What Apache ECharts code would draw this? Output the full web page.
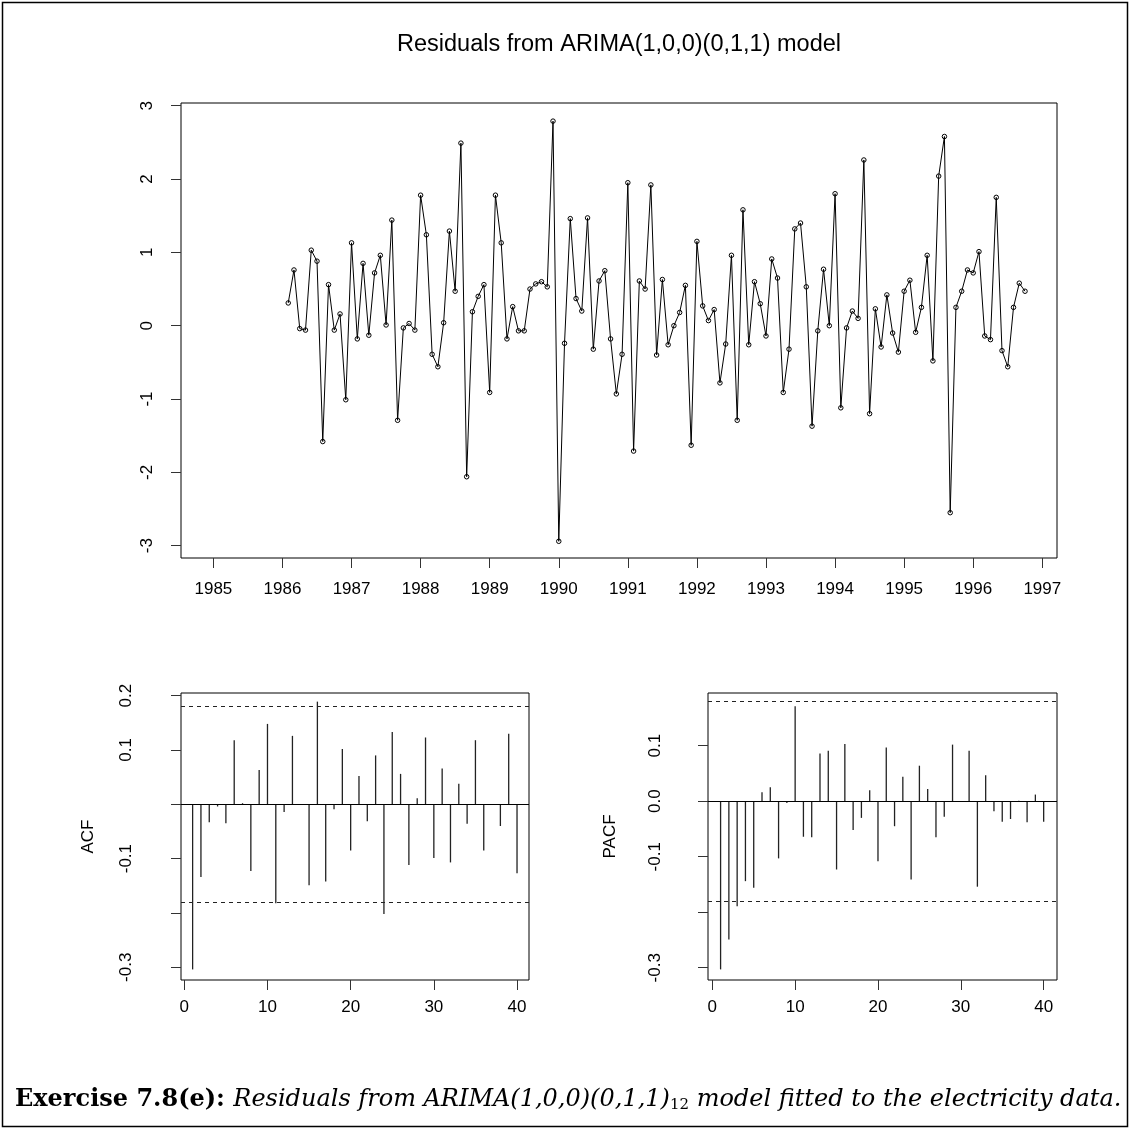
<!DOCTYPE html>
<html>
<head>
<meta charset="utf-8">
<title>Residuals from ARIMA(1,0,0)(0,1,1) model</title>
<script src="https://cdn.jsdelivr.net/npm/echarts@6/dist/echarts.min.js"></script>
<style>
  html, body { margin: 0; padding: 0; background: #fff; }
  #chart { width: 1130px; height: 1144px; }
</style>
</head>
<body>
<div id="chart"></div>
<script>
// Monthly residuals, first value is February 1986
const startYear = 1986;
const startMonth = 2;
const residuals = [
  0.31, 0.76, -0.04, -0.06, 1.03, 0.88, -1.58, 0.56, -0.06, 0.16,
  -1.01, 1.13, -0.18, 0.85, -0.13, 0.72, 0.96, 0.01, 1.44, -1.29,
  -0.03, 0.03, -0.06, 1.78, 1.24, -0.39, -0.56, 0.04, 1.29, 0.47,
  2.49, -2.06, 0.19, 0.40, 0.56, -0.91, 1.78, 1.13, -0.18, 0.26,
  -0.07,
  -0.07, 0.50, 0.57, 0.60, 0.53, 2.79, -2.94, -0.24, 1.46, 0.37,
  0.20, 1.47, -0.32, 0.61, 0.75, -0.18, -0.93, -0.39, 1.95, -1.71,
  0.61, 0.50, 1.92, -0.40, 0.63, -0.26, 0.00, 0.18, 0.55, -1.63,
  1.15, 0.27, 0.07, 0.22, -0.78, -0.25, 0.96, -1.29, 1.58, -0.26,
  0.60,
  0.30, -0.14, 0.91, 0.65, -0.91, -0.32, 1.32, 1.40, 0.53, -1.37,
  -0.07, 0.77, 0.00, 1.80, -1.12, -0.03, 0.20, 0.10, 2.26, -1.20,
  0.23, -0.29, 0.42, -0.10, -0.36, 0.47, 0.62, -0.09, 0.25, 0.96,
  -0.48, 2.04, 2.58, -2.55, 0.25, 0.47, 0.76, 0.72, 1.01, -0.14,
  -0.19, 1.75, -0.34, -0.56, 0.25, 0.58, 0.47
];
const yearTicks = [1985, 1986, 1987, 1988, 1989, 1990, 1991, 1992, 1993, 1994, 1995, 1996, 1997];
const residTicks = [-3, -2, -1, 0, 1, 2, 3];

// Sample autocorrelations of the residuals, lags 1..40
const lags = [1, 2, 3, 4, 5, 6, 7, 8, 9, 10, 11, 12, 13, 14, 15, 16, 17, 18, 19, 20,
              21, 22, 23, 24, 25, 26, 27, 28, 29, 30, 31, 32, 33, 34, 35, 36, 37, 38, 39, 40];
const acfValues = [
  -0.304, -0.134, -0.033, -0.004, -0.035, 0.118, 0.002, -0.123, 0.063, 0.148,
  -0.182, -0.014, 0.126, -0.001, -0.149, 0.189, -0.142, -0.009, 0.102, -0.085,
  0.052, -0.031, 0.090, -0.202, 0.133, 0.056, -0.112, 0.011, 0.123, -0.099,
  0.066, -0.107, 0.038, -0.036, 0.118, -0.085, -0.001, -0.040, 0.130, -0.127
];
const pacfValues = [
  -0.303, -0.249, -0.189, -0.144, -0.156, 0.016, 0.025, -0.103, -0.003, 0.171,
  -0.064, -0.065, 0.086, 0.091, -0.123, 0.103, -0.052, -0.030, 0.020, -0.108,
  0.097, -0.045, 0.044, -0.141, 0.064, 0.022, -0.065, -0.028, 0.102, -0.001,
  0.091, -0.154, 0.047, -0.018, -0.037, -0.032, 0.001, -0.038, 0.012, -0.037
];
const confLimit = 0.176;
const lagTicks = [0, 10, 20, 30, 40];
const acfTicks = [-0.3, -0.2, -0.1, 0, 0.1, 0.2];
const acfTickLabels = [-0.3, -0.1, 0.1, 0.2];
const pacfTicks = [-0.3, -0.2, -0.1, 0, 0.1];
const pacfTickLabels = [-0.3, -0.1, 0, 0.1];

const FONT = 'Liberation Sans, Arial, Helvetica, sans-serif';
const SERIF = 'DejaVu Serif, Liberation Serif, serif';
const TICK_FONT = 17;

const chart = echarts.init(document.getElementById('chart'), null, { renderer: 'canvas' });

function xAxisCfg(gridIndex, min, max, ticks, margin) {
  return {
    type: 'value', gridIndex, min, max, position: 'bottom',
    axisLine: { show: false, onZero: false },
    splitLine: { show: false },
    axisTick: { show: true, inside: false, length: 10, customValues: ticks,
                lineStyle: { color: '#333', width: 1 } },
    axisLabel: { show: true, customValues: ticks, margin,
                 color: '#000', fontFamily: FONT, fontSize: TICK_FONT,
                 formatter: v => String(Math.round(v)) }
  };
}

function yAxisCfg(gridIndex, min, max, ticks, labels, margin, fmt, name, nameGap) {
  return {
    type: 'value', gridIndex, min, max, position: 'left',
    axisLine: { show: false, onZero: false },
    splitLine: { show: false },
    axisTick: { show: true, inside: false, length: 10, customValues: ticks,
                lineStyle: { color: '#333', width: 1 } },
    axisLabel: { show: true, customValues: labels, rotate: 90, margin,
                 color: '#000', fontFamily: FONT, fontSize: TICK_FONT, formatter: fmt },
    name: name || '',
    nameLocation: 'middle', nameRotate: 90, nameGap: nameGap || 0,
    nameTextStyle: { color: '#000', fontFamily: FONT, fontSize: 17 }
  };
}

function spikeSeries(axisIndex, values) {
  return {
    type: 'custom',
    xAxisIndex: axisIndex, yAxisIndex: axisIndex,
    data: lags.map((l, i) => [l, values[i]]),
    renderItem: (params, api) => {
      const base = api.coord([api.value(0), 0]);
      const tip = api.coord([api.value(0), api.value(1)]);
      return {
        type: 'line',
        shape: { x1: base[0], y1: base[1], x2: tip[0], y2: tip[1] },
        style: { stroke: '#222', lineWidth: 1.3 }
      };
    },
    markLine: {
      silent: true, symbol: 'none', animation: false,
      label: { show: false },
      data: [
        { yAxis: 0, lineStyle: { type: 'solid', color: '#000', width: 1 } },
        { yAxis: confLimit, lineStyle: { type: [4, 4], color: '#222', width: 1 } },
        { yAxis: -confLimit, lineStyle: { type: [4, 4], color: '#222', width: 1 } }
      ]
    }
  };
}

const frameStyle = { show: true, borderColor: '#000', borderWidth: 1, backgroundColor: 'transparent' };

const option = {
  animation: false,
  backgroundColor: '#fff',
  grid: [
    Object.assign({ left: 181, top: 103, width: 876, height: 455 }, frameStyle),
    Object.assign({ left: 181, top: 693, width: 348, height: 287 }, frameStyle),
    Object.assign({ left: 708, top: 693, width: 349, height: 287 }, frameStyle)
  ],
  xAxis: [
    xAxisCfg(0, 1984.531, 1997.213, yearTicks, 23),
    xAxisCfg(1, -0.397, 41.44, lagTicks, 19),
    xAxisCfg(2, -0.519, 41.61, lagTicks, 19)
  ],
  yAxis: [
    yAxisCfg(0, -3.168, 3.037, residTicks, residTicks, 25, v => String(Math.round(v))),
    yAxisCfg(1, -0.3235, 0.2049, acfTicks, acfTickLabels, 46, v => v.toFixed(1), 'ACF', 84),
    yAxisCfg(2, -0.3221, 0.195, pacfTicks, pacfTickLabels, 44, v => v.toFixed(1), 'PACF', 89)
  ],
  series: [
    {
      type: 'line',
      xAxisIndex: 0, yAxisIndex: 0,
      data: residuals.map((v, i) => [startYear + (startMonth - 1 + i) / 12, v]),
      showAllSymbol: true,
      symbol: 'circle', symbolSize: 4.5,
      itemStyle: { color: 'rgba(255,255,255,0)', borderColor: '#000', borderWidth: 1 },
      lineStyle: { color: '#000', width: 1 },
      emphasis: { disabled: true }
    },
    spikeSeries(1, acfValues),
    spikeSeries(2, pacfValues)
  ],
  graphic: [
    {
      type: 'rect', silent: true,
      shape: { x: 2.5, y: 2.5, width: 1125, height: 1124 },
      style: { fill: 'none', stroke: '#000', lineWidth: 1.5 }
    },
    {
      type: 'text', silent: true,
      x: 619, y: 45,
      style: {
        text: 'Residuals from ARIMA(1,0,0)(0,1,1) model',
        fontFamily: FONT, fontSize: 23.5, fill: '#000',
        textAlign: 'center', textVerticalAlign: 'middle'
      }
    },
    {
      type: 'text', silent: true,
      x: 15, y: 1100,
      style: {
        text: '{b|Exercise 7.8(e): }{i|Residuals from ARIMA(1,0,0)(0,1,1)}{s|12}{i| model fitted to the electricity data.}',
        textVerticalAlign: 'middle',
        rich: {
          b: { fontFamily: SERIF, fontWeight: 'bold', fontSize: 24, fill: '#000' },
          i: { fontFamily: SERIF, fontStyle: 'italic', fontSize: 24, fill: '#000' },
          s: { fontFamily: SERIF, fontSize: 15, fill: '#000', padding: [10, 0, 0, 0] }
        }
      }
    }
  ]
};

chart.setOption(option);
</script>
</body>
</html>
